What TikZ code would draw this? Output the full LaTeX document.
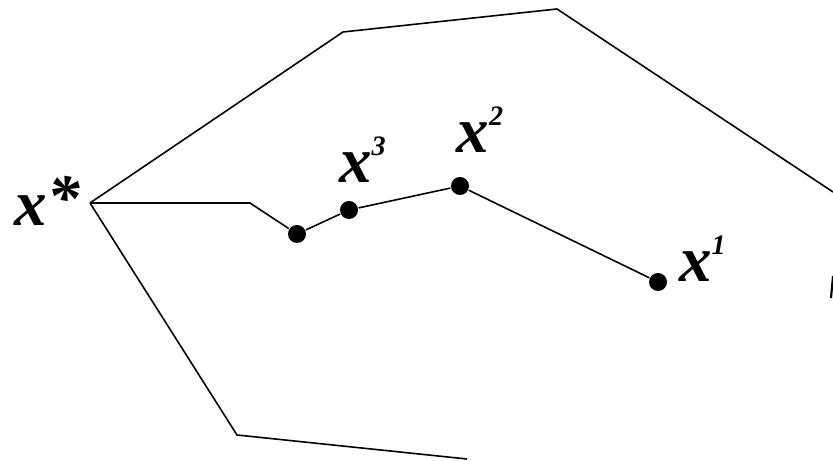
\documentclass[tikz,border=0pt]{standalone}
\usepackage{fontspec}
\setmainfont{Liberation Serif}
\usepackage{tikz}

\tikzset{
  iterate/.style={circle,fill=black,inner sep=0pt,minimum size=0.36cm},
  ptlabel/.style={font=\fontsize{37}{40}\selectfont\bfseries\itshape,inner sep=0pt}
}
\newcommand{\supnum}[1]{\raisebox{0.42em}{\fontsize{16}{18}\selectfont #1}}

\begin{document}
\begin{tikzpicture}[line width=0.9pt]
  \useasboundingbox (0,0) rectangle (16.66,9.22);
  % vertices of the outer region
  \coordinate (xs) at (1.8,5.16);
  \coordinate (ua) at (6.86,8.58);
  \coordinate (ub) at (11.14,9.04);
  \coordinate (uc) at (16.66,5.38);
  \coordinate (la) at (4.74,0.52);
  \coordinate (lb) at (9.34,0.04);
  \coordinate (kink) at (5.0,5.16);
  % iterates
  \node[iterate] (p4) at (5.94,4.54) {};
  \node[iterate] (p3) at (6.98,5.02) {};
  \node[iterate] (p2) at (9.2,5.5) {};
  \node[iterate] (p1) at (13.16,3.58) {};
  % labels
  \node[ptlabel] (lxs) at (0.95,5.2) {x\raisebox{0.1em}{*}};
  \node[ptlabel] (l3) at (7.25,6.02) {x\supnum{3}};
  \node[ptlabel] (l2) at (9.6,6.62) {x\supnum{2}};
  \node[ptlabel] (l1) at (14.05,4.05) {x\supnum{1}};
  % boundary
  \draw (xs) -- (ua) -- (ub) -- (uc);
  \draw (xs) -- (la) -- (lb);
  \draw[line width=1.2pt] (16.66,3.7) -- (16.62,3.26);
  % path of iterates
  \draw (xs) -- (kink) -- (p4) -- (p3) -- (p2) -- (p1);
\end{tikzpicture}
\end{document}
